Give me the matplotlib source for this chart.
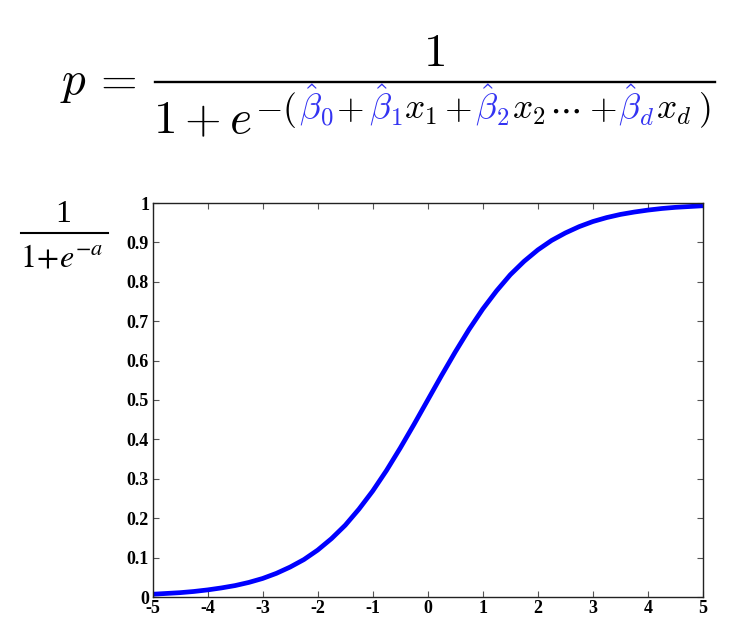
import matplotlib
matplotlib.use("Agg")
import matplotlib.pyplot as plt
from matplotlib.lines import Line2D

# ---- data ----
a_vals = [-5, -4.75, -4.5, -4.25, -4, -3.75, -3.5, -3.25, -3, -2.75, -2.5, -2.25, -2,
          -1.75, -1.5, -1.25, -1, -0.75, -0.5, -0.25, 0, 0.25, 0.5, 0.75, 1, 1.25, 1.5,
          1.75, 2, 2.25, 2.5, 2.75, 3, 3.25, 3.5, 3.75, 4, 4.25, 4.5, 4.75, 5]
p_vals = [0.007, 0.009, 0.011, 0.014, 0.018, 0.023, 0.029, 0.037, 0.047, 0.060, 0.076,
          0.095, 0.119, 0.148, 0.182, 0.223, 0.269, 0.321, 0.378, 0.438, 0.500, 0.562,
          0.622, 0.679, 0.731, 0.777, 0.818, 0.852, 0.881, 0.905, 0.924, 0.940, 0.953,
          0.963, 0.971, 0.977, 0.982, 0.986, 0.989, 0.991, 0.993]
x_ticks = [-5, -4, -3, -2, -1, 0, 1, 2, 3, 4, 5]
x_tick_labels = ["-5", "-4", "-3", "-2", "-1", "0", "1", "2", "3", "4", "5"]
y_ticks = [0, 0.1, 0.2, 0.3, 0.4, 0.5, 0.6, 0.7, 0.8, 0.9, 1]
y_tick_labels = ["0", "0.1", "0.2", "0.3", "0.4", "0.5", "0.6", "0.7", "0.8", "0.9", "1"]

W, H = 744, 644
fig = plt.figure(figsize=(W / 100, H / 100), dpi=100)
fig.patch.set_facecolor("white")

def fx(px):
    return px / W

def fy(py):
    return 1 - py / H

# ---- axes ----
ax = fig.add_axes([fx(152.5), fy(597), fx(703) - fx(152.5), fy(203) - fy(597)])
ax.plot(a_vals, p_vals, color=(0, 0, 1), lw=3.4, solid_capstyle="butt", clip_on=True)
ax.set_xlim(-5, 5)
ax.set_ylim(0, 1)
ax.set_xticks(x_ticks)
ax.set_xticklabels(x_tick_labels)
ax.set_yticks(y_ticks)
ax.set_yticklabels(y_tick_labels)
ax.tick_params(direction="in", length=4, width=0.8, top=True, right=True, pad=2.5,
               color="#555555")
for lab in ax.get_xticklabels() + ax.get_yticklabels():
    lab.set_fontfamily("Liberation Serif")
    lab.set_fontweight("bold")
    lab.set_fontsize(13)
for s in ax.spines.values():
    s.set_color("#222222")
    s.set_linewidth(1.0)

# ---- y label: 1/(1+e^{-a}) ----
fig.text(fx(63), fy(222), "1", fontsize=23, family="Liberation Serif",
         ha="center", va="baseline")
fig.add_artist(Line2D([fx(21), fx(108)], [fy(233), fy(233)], color="black", lw=1.5))
fig.text(fx(20), fy(267), r"$1\!+\!e^{-a}$", fontsize=23,
         math_fontfamily="stix", ha="left", va="baseline")

# ---- top formula ----
big = 34
small = 25.5
fig.text(fx(60), fy(94), r"$p$", fontsize=big, math_fontfamily="cm",
         ha="left", va="baseline")
fig.text(fx(92), fy(94), r"$=$", fontsize=big, math_fontfamily="cm",
         ha="left", va="baseline")
fig.text(fx(434), fy(66), r"$1$", fontsize=big, math_fontfamily="cm",
         ha="center", va="baseline")
fig.add_artist(Line2D([fx(155), fx(715)], [fy(82), fy(82)], color="black", lw=1.7))
fig.text(fx(153), fy(133), r"$1+e$", fontsize=big, math_fontfamily="cm",
         ha="left", va="baseline")

blue = (0.2, 0.2, 0.95)
pieces = [
    (r"$-($", "black", 255),
    (r"$\hat{\beta}_0$", blue, 299),
    (r"$+$", "black", 336),
    (r"$\hat{\beta}_1$", blue, 369),
    (r"$x_1$", "black", 404),
    (r"$+$", "black", 444),
    (r"$\hat{\beta}_2$", blue, 475),
    (r"$x_2$", "black", 512),
    (r"$\cdots$", "black", 549),
    (r"$+$", "black", 589),
    (r"$\hat{\beta}_d$", blue, 618),
    (r"$x_d$", "black", 656),
    (r"$)$", "black", 698),
]
for s, c, px in pieces:
    fig.text(fx(px), fy(119), s, fontsize=small, color=c, math_fontfamily="cm",
             ha="left", va="baseline")

fig.savefig("out.png", dpi=100, facecolor="white")
